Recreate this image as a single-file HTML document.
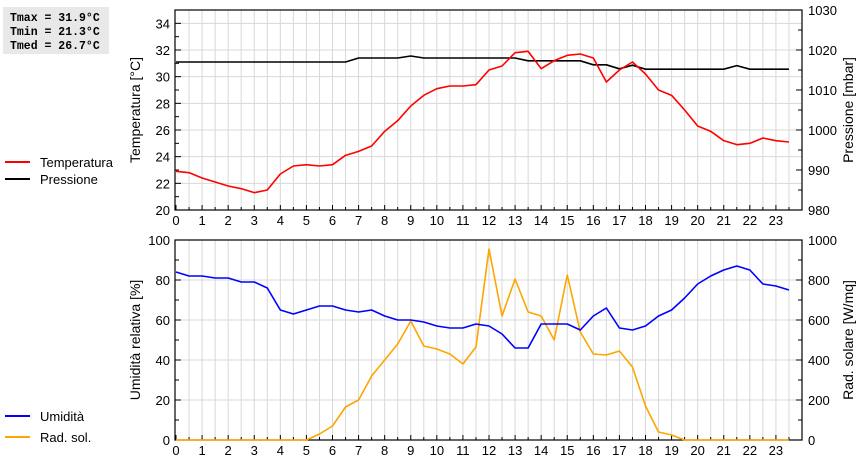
<!DOCTYPE html>
<html><head><meta charset="utf-8"><style>
html,body{margin:0;padding:0;background:#fff;}
svg{display:block;font-family:"Liberation Sans",sans-serif;}
</style></head><body>
<svg id="c" width="860" height="460" xmlns="http://www.w3.org/2000/svg">
<rect x="3" y="7" width="106" height="47" fill="#e8e8e8"/>
<g font-family="Liberation Mono,monospace" font-weight="bold" font-size="11.5" fill="#000">
<text x="10" y="21">Tmax = 31.9°C</text>
<text x="10" y="35">Tmin = 21.3°C</text>
<text x="10" y="49">Tmed = 26.7°C</text>
</g>
<g font-size="13">
<line x1="5" y1="162" x2="30" y2="162" stroke="#f00" stroke-width="2"/>
<text x="40" y="167">Temperatura</text>
<line x1="5" y1="179" x2="30" y2="179" stroke="#000" stroke-width="2"/>
<text x="40" y="184">Pressione</text>
</g>
<g font-size="13">
<line x1="5" y1="416" x2="30" y2="416" stroke="#00f" stroke-width="2"/>
<text x="40" y="421">Umidità</text>
<line x1="5" y1="437" x2="30" y2="437" stroke="orange" stroke-width="2"/>
<text x="40" y="442">Rad. sol.</text>
</g>
<g id="topPanel"></g>
<g id="botPanel"></g>
</svg>
<script>
const hours=[0,0.5,1,1.5,2,2.5,3,3.5,4,4.5,5,5.5,6,6.5,7,7.5,8,8.5,9,9.5,10,10.5,11,11.5,12,12.5,13,13.5,14,14.5,15,15.5,16,16.5,17,17.5,18,18.5,19,19.5,20,20.5,21,21.5,22,22.5,23,23.5];
const temperature=[22.9,22.8,22.4,22.1,21.8,21.6,21.3,21.5,22.7,23.3,23.4,23.3,23.4,24.1,24.4,24.8,25.9,26.7,27.8,28.6,29.1,29.3,29.3,29.4,30.5,30.8,31.8,31.9,30.6,31.2,31.6,31.7,31.4,29.6,30.5,31.1,30.2,29.0,28.6,27.5,26.3,25.9,25.2,24.9,25.0,25.4,25.2,25.1];
const pressure=[1017,1017,1017,1017,1017,1017,1017,1017,1017,1017,1017,1017,1017,1017,1018,1018,1018,1018,1018.5,1018,1018,1018,1018,1018,1018,1018,1018,1017.3,1017.3,1017.3,1017.3,1017.3,1016.3,1016.3,1015.3,1016.2,1015.2,1015.2,1015.2,1015.2,1015.2,1015.2,1015.2,1016.1,1015.2,1015.2,1015.2,1015.2];
const humidity=[84,82,82,81,81,79,79,76,65,63,65,67,67,65,64,65,62,60,60,59,57,56,56,58,57,53,46,46,58,58,58,55,62,66,56,55,57,62,65,71,78,82,85,87,85,78,77,75];
const radiation=[0,0,0,0,0,0,0,0,0,0,0,30,70,165,200,320,400,480,595,470,455,430,380,465,955,620,805,640,620,500,825,540,430,425,445,365,170,40,25,0,0,0,0,0,0,0,0,0];
const xTicks=[0,1,2,3,4,5,6,7,8,9,10,11,12,13,14,15,16,17,18,19,20,21,22,23];
const tempTicks=[20,22,24,26,28,30,32,34];
const pressTicks=[980,990,1000,1010,1020,1030];
const humTicks=[0,20,40,60,80,100];
const radTicks=[0,200,400,600,800,1000];
{
const NS="http://www.w3.org/2000/svg";
const L=175,R=802;
const X=h=>176+h*(626/24);
function mk(p,tag,a){const e=document.createElementNS(NS,tag);for(const k in a)e.setAttribute(k,a[k]);p.appendChild(e);return e;}
function panel(g,t0,b0,lMin,lMax,rMin,rMax,lTicks,rTicks,lTitle,rTitle,prefix){
  const yl=v=>b0-(v-lMin)/(lMax-lMin)*(b0-t0);
  const yr=v=>b0-(v-rMin)/(rMax-rMin)*(b0-t0);
  for(let h=0.5;h<24;h+=0.5){const l=mk(g,'line',{x1:X(h),x2:X(h),y1:t0,y2:b0,stroke:'#d8d8d8','stroke-width':1});
    
    }
  lTicks.forEach(v=>{const l=mk(g,'line',{x1:L,x2:R,y1:yl(v),y2:yl(v),stroke:'#d8d8d8','stroke-width':1});
    
    
    const t=mk(g,'text',{x:L-5,y:yl(v)+5,'text-anchor':'end','font-size':13});t.textContent=v;
    
    
    mk(g,'line',{x1:L,x2:L+6,y1:yl(v),y2:yl(v),stroke:'#000'});});
  for(let i=0;i<lTicks.length-1;i++){const m=(lTicks[i]+lTicks[i+1])/2;mk(g,'line',{x1:L,x2:L+4,y1:yl(m),y2:yl(m),stroke:'#000'});}
  rTicks.forEach(v=>{const t=mk(g,'text',{x:R+6,y:yr(v)+5,'font-size':13});t.textContent=v;
    
    
    mk(g,'line',{x1:R-6,x2:R,y1:yr(v),y2:yr(v),stroke:'#000'});});
  for(let i=0;i<rTicks.length-1;i++){const m=(rTicks[i]+rTicks[i+1])/2;mk(g,'line',{x1:R-4,x2:R,y1:yr(m),y2:yr(m),stroke:'#000'});}
  xTicks.forEach(h=>{const t=mk(g,'text',{x:X(h),y:b0+15,'text-anchor':'middle','font-size':13});t.textContent=h;
    
    
    mk(g,'line',{x1:X(h),x2:X(h),y1:b0-5,y2:b0,stroke:'#000'});
    mk(g,'line',{x1:X(h+0.5),x2:X(h+0.5),y1:b0-3,y2:b0,stroke:'#000'});});
  const b=mk(g,'rect',{x:L,y:t0,width:R-L,height:b0-t0,fill:'none',stroke:'#000','stroke-width':1.2});
  
  
  const cy=(t0+b0)/2;
  const t1=mk(g,'text',{x:0,y:0,'text-anchor':'middle','font-size':14,transform:`translate(140,${cy}) rotate(-90)`});t1.textContent=lTitle;
  
  
  const t2=mk(g,'text',{x:0,y:0,'text-anchor':'middle','font-size':14,transform:`translate(853,${cy}) rotate(-90)`});t2.textContent=rTitle;
  
  
  return {yl,yr};
}
function series(g,vals,y,color,name){
  const p=mk(g,'polyline',{points:vals.map((v,i)=>X(hours[i])+','+y(v)).join(' '),fill:'none',stroke:color,'stroke-width':1.6,'stroke-linejoin':'round'});
  
  
}
const gTop=document.getElementById('topPanel'),gBot=document.getElementById('botPanel');
const a=panel(gTop,10,210,20,35,980,1030,tempTicks,pressTicks,'Temperatura [°C]','Pressione [mbar]','top');
series(gTop,pressure,a.yr,'#000','pressure-line');
series(gTop,temperature,a.yl,'#f00','temperature-line');
const b=panel(gBot,240,440,0,100,0,1000,humTicks,radTicks,'Umidità relativa [%]','Rad. solare [W/mq]','bottom');
series(gBot,radiation,b.yr,'orange','radiation-line');
series(gBot,humidity,b.yl,'#00f','humidity-line');
}
</script>
</body></html>
